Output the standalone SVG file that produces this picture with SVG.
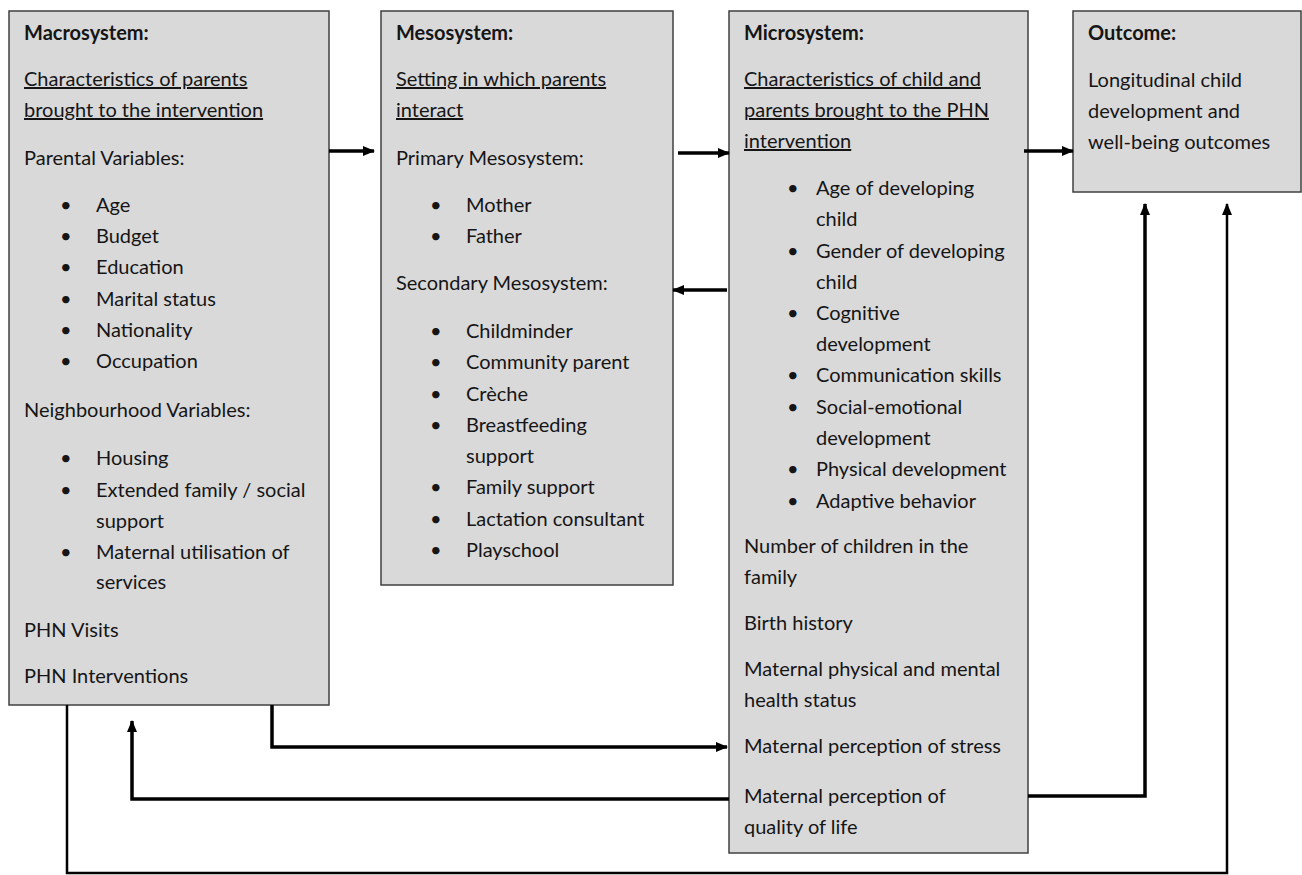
<svg xmlns="http://www.w3.org/2000/svg" width="1302" height="875" viewBox="0 0 1302 875">
  <style>
    .box { fill: #d9d9d9; stroke: #404040; stroke-width: 1.5; }
    text { font-family: Lato, "Liberation Sans", sans-serif; font-size: 20px; fill: #151515; }
    .h { font-weight: bold; }
    .u { text-decoration: underline; }
    .link { fill: none; stroke: #000; stroke-width: 3.5; }
    .thin { stroke-width: 2.5; }
  </style>
  <defs>
    <marker id="arrow" markerUnits="userSpaceOnUse" markerWidth="12" markerHeight="12" viewBox="0 0 12 12" refX="11" refY="6" orient="auto">
      <path d="M0,1 L12,6 L0,11 Z" fill="#000"/>
    </marker>
  </defs>

  <rect width="1302" height="875" fill="#ffffff"/>

  <!-- Macrosystem -->
  <g id="macrosystem">
    <rect class="box" x="9" y="11" width="320" height="694"/>
    <text class="h" x="24" y="40">Macrosystem:</text>
    <text class="u" x="24" y="86">Characteristics of parents</text>
    <text class="u" x="24" y="117">brought to the intervention</text>
    <text x="24" y="165">Parental Variables:</text>
    <text x="60" y="212">•</text><text x="96" y="212">Age</text>
    <text x="60" y="243">•</text><text x="96" y="243">Budget</text>
    <text x="60" y="274">•</text><text x="96" y="274">Education</text>
    <text x="60" y="306">•</text><text x="96" y="306">Marital status</text>
    <text x="60" y="337">•</text><text x="96" y="337">Nationality</text>
    <text x="60" y="368">•</text><text x="96" y="368">Occupation</text>
    <text x="24" y="417">Neighbourhood Variables:</text>
    <text x="60" y="465">•</text><text x="96" y="465">Housing</text>
    <text x="60" y="497">•</text><text x="96" y="497">Extended family / social</text>
    <text x="96" y="528">support</text>
    <text x="60" y="559">•</text><text x="96" y="559">Maternal utilisation of</text>
    <text x="96" y="589">services</text>
    <text x="24" y="637">PHN Visits</text>
    <text x="24" y="683">PHN Interventions</text>
  </g>

  <!-- Mesosystem -->
  <g id="mesosystem">
    <rect class="box" x="381" y="11" width="292" height="574"/>
    <text class="h" x="396" y="40">Mesosystem:</text>
    <text class="u" x="396" y="86">Setting in which parents</text>
    <text class="u" x="396" y="117">interact</text>
    <text x="396" y="165">Primary Mesosystem:</text>
    <text x="430" y="212">•</text><text x="466" y="212">Mother</text>
    <text x="430" y="243">•</text><text x="466" y="243">Father</text>
    <text x="396" y="290">Secondary Mesosystem:</text>
    <text x="430" y="338">•</text><text x="466" y="338">Childminder</text>
    <text x="430" y="369">•</text><text x="466" y="369">Community parent</text>
    <text x="430" y="401">•</text><text x="466" y="401">Crèche</text>
    <text x="430" y="432">•</text><text x="466" y="432">Breastfeeding</text>
    <text x="466" y="463">support</text>
    <text x="430" y="494">•</text><text x="466" y="494">Family support</text>
    <text x="430" y="526">•</text><text x="466" y="526">Lactation consultant</text>
    <text x="430" y="557">•</text><text x="466" y="557">Playschool</text>
  </g>

  <!-- Microsystem -->
  <g id="microsystem">
    <rect class="box" x="729" y="11" width="299" height="842"/>
    <text class="h" x="744" y="40">Microsystem:</text>
    <text class="u" x="744" y="86">Characteristics of child and</text>
    <text class="u" x="744" y="117">parents brought to the PHN</text>
    <text class="u" x="744" y="148">intervention</text>
    <text x="787" y="195">•</text><text x="816" y="195">Age of developing</text>
    <text x="816" y="226">child</text>
    <text x="787" y="258">•</text><text x="816" y="258">Gender of developing</text>
    <text x="816" y="289">child</text>
    <text x="787" y="320">•</text><text x="816" y="320">Cognitive</text>
    <text x="816" y="351">development</text>
    <text x="787" y="382">•</text><text x="816" y="382">Communication skills</text>
    <text x="787" y="414">•</text><text x="816" y="414">Social-emotional</text>
    <text x="816" y="445">development</text>
    <text x="787" y="476">•</text><text x="816" y="476">Physical development</text>
    <text x="787" y="508">•</text><text x="816" y="508">Adaptive behavior</text>
    <text x="744" y="553">Number of children in the</text>
    <text x="744" y="584">family</text>
    <text x="744" y="630">Birth history</text>
    <text x="744" y="676">Maternal physical and mental</text>
    <text x="744" y="707">health status</text>
    <text x="744" y="753">Maternal perception of stress</text>
    <text x="744" y="803">Maternal perception of</text>
    <text x="744" y="834">quality of life</text>
  </g>

  <!-- Outcome -->
  <g id="outcome">
    <rect class="box" x="1073" y="11" width="228" height="181"/>
    <text class="h" x="1088" y="40">Outcome:</text>
    <text x="1088" y="87">Longitudinal child</text>
    <text x="1088" y="118">development and</text>
    <text x="1088" y="149">well-being outcomes</text>
  </g>

  <!-- Connectors -->
  <g id="connectors">
    <path class="link" d="M329,151 H374" marker-end="url(#arrow)"/>
    <path class="link" d="M678,153 H729" marker-end="url(#arrow)"/>
    <path class="link" d="M727,290 H673" marker-end="url(#arrow)"/>
    <path class="link" d="M1024,151 H1073" marker-end="url(#arrow)"/>
    <path class="link" d="M272,705 V747 H727" marker-end="url(#arrow)"/>
    <path class="link" d="M729,799 H132 V721" marker-end="url(#arrow)"/>
    <path class="link" d="M1028,796 H1145 V204" marker-end="url(#arrow)"/>
    <path class="link thin" d="M67,705 V873 H1227 V204" marker-end="url(#arrow)"/>
  </g>
</svg>
